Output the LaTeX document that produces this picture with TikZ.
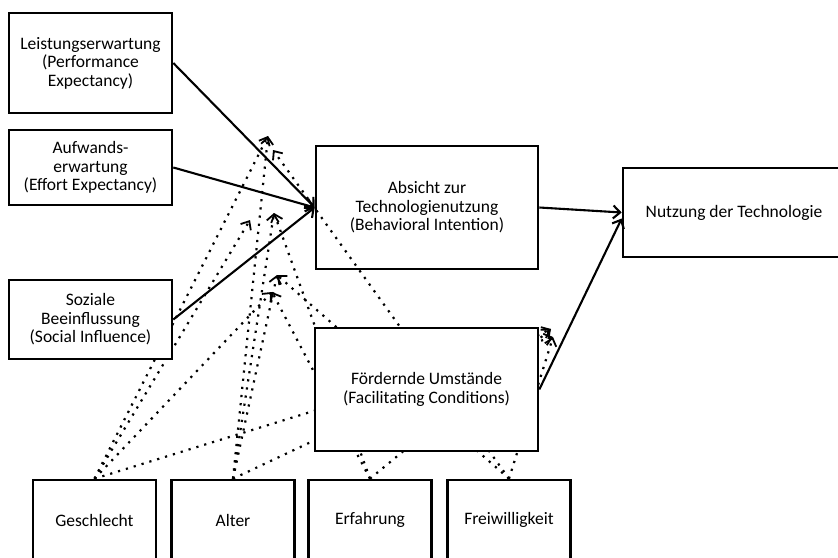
\documentclass[tikz,border=0pt]{standalone}
\usepackage{fontspec}
\setmainfont{Carlito}
\usepackage{tikz}
\usetikzlibrary{arrows.meta,backgrounds}

\begin{document}
\begin{tikzpicture}[x=1pt,y=-1pt,
  every node/.style={font=\fontsize{17.5}{18.6}\selectfont,align=center},
  box/.style={draw,line width=2.6pt,fill=white,inner sep=0pt},
  effect/.style={line width=2.1pt,-{Straight Barb[length=7pt,width=13pt]}},
  moder/.style={line width=2.2pt,dash pattern=on 2.2pt off 6pt,
    -{Straight Barb[length=7pt,width=12pt,line width=1.8pt]}}]
  \useasboundingbox (0,0) rectangle (838,557);
  \clip (0,0) rectangle (838,557);
  \node[box,minimum width=163pt,minimum height=100pt] (pe) at (90.5,63) {Leistungserwartung\\(Performance\\Expectancy)};
  \node[box,minimum width=163pt,minimum height=75pt] (ee) at (90.5,167.5) {Aufwands-\\erwartung\\(Effort Expectancy)};
  \node[box,minimum width=163pt,minimum height=79pt] (si) at (90.5,319.5) {Soziale\\Beeinflussung\\(Social Influence)};
  \node[box,minimum width=222pt,minimum height=89pt] (use) at (734,212.5) {Nutzung der Technologie};
  \node[box,minimum width=223pt,minimum height=123pt] (fc) at (426.5,389.5) {Fördernde Umstände\\(Facilitating Conditions)};
  \node[box,minimum width=123pt,minimum height=80pt] (ge) at (94.5,520) {Geschlecht};
  \node[box,minimum width=123pt,minimum height=80pt] (al) at (233,520) {Alter};
  \node[box,minimum width=123pt,minimum height=80pt] (er) at (370,520) {Erfahrung};
  \node[box,minimum width=123pt,minimum height=80pt] (fw) at (509,520) {Freiwilligkeit};
  % where the moderating arrows end
  \coordinate (pe1) at (268,136);
  \coordinate (pe2) at (273,150);
  \coordinate (ee1) at (250,220);
  \coordinate (ee2) at (274,213);
  \coordinate (si1) at (277,275);
  \coordinate (si2) at (272,292);
  \coordinate (fc1) at (551,329);
  \coordinate (fc2) at (553,337);
  \begin{scope}[on background layer]
    \node[box,minimum width=222pt,minimum height=123pt] (bi) at (427,207.5) {Absicht zur\\Technologienutzung\\(Behavioral Intention)};
    \foreach \m/\t in {ge/pe1, ge/ee1, ge/si2, ge/fc2, al/pe1, al/ee2, al/si1, al/fc1,
                       er/ee2, er/si2, er/fc1, fw/pe2, fw/si1, fw/fc2}
      \draw[moder] (\m.north) -- (\t);
  \end{scope}
  \draw[effect] (pe.east) -- (bi.west);
  \draw[effect] (ee.east) -- (bi.west);
  \draw[effect] (si.east) -- (bi.west);
  \draw[effect] (bi.east) -- (use.west);
  \draw[effect] (fc.east) -- ([yshift=-6pt]use.west);
\end{tikzpicture}
\end{document}
